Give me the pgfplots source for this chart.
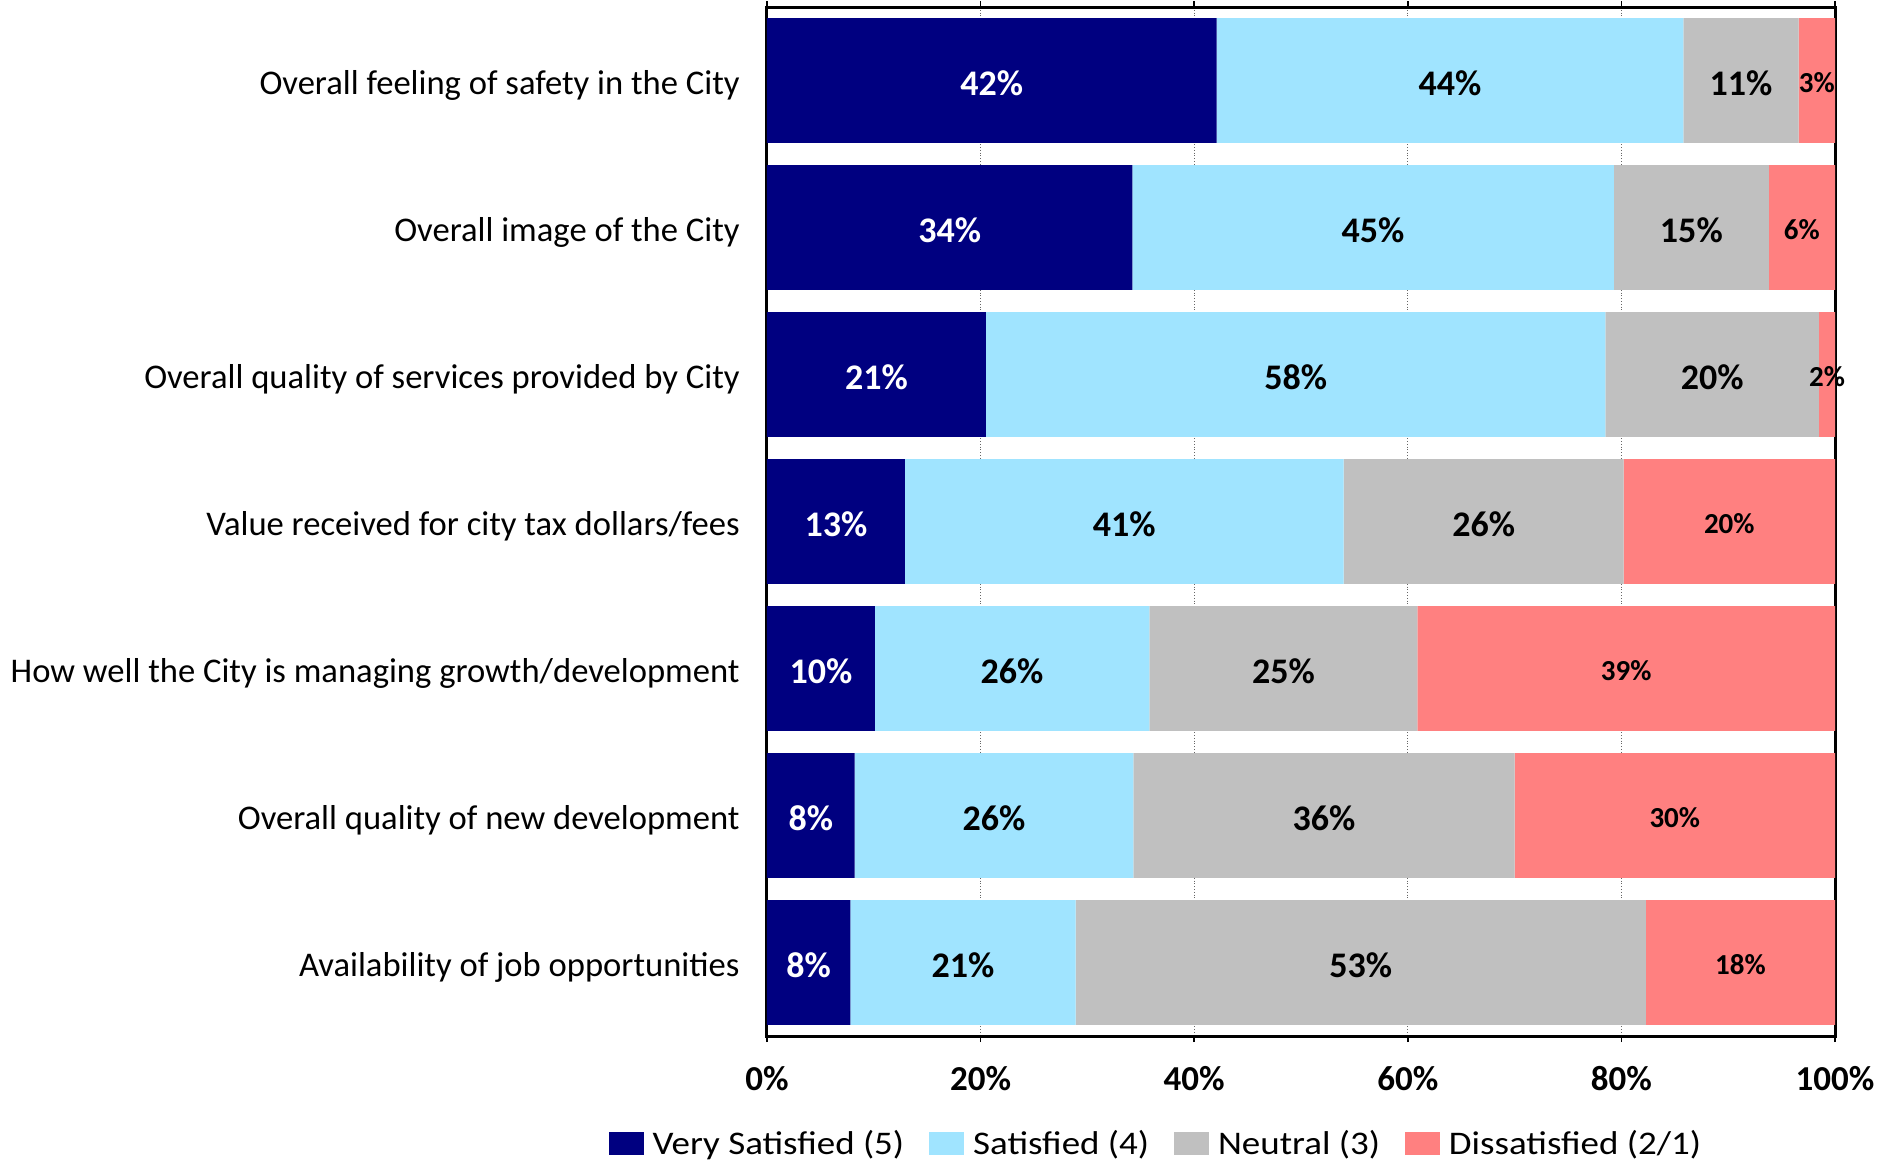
\documentclass[border=0pt]{standalone}
\usepackage{pgfplots}
\pgfplotsset{compat=1.18}
\usepackage{pgfplotstable}
\usepackage{fontspec}
\setmainfont{Carlito}
\newfontfamily\legfont{Carlito}[FakeStretch=1.12]
\definecolor{vs}{HTML}{000080}
\definecolor{sat}{HTML}{A0E4FF}
\definecolor{neu}{HTML}{C0C0C0}
\definecolor{dis}{HTML}{FF8080}
\pgfplotstableread{
idx vs ls s lsat n ln d ld
0 42.1 42 43.7 44 10.8 11 3.4 3
1 34.2 34 45.1 45 14.5 15 6.2 6
2 20.5 21 58.0 58 20.0 20 1.5 2
3 12.9 13 41.1 41 26.2 26 19.8 20
4 10.1 10 25.7 26 25.1 25 39.1 39
5 8.2 8 26.1 26 35.7 36 30.0 30
6 7.8 8 21.1 21 53.4 53 17.7 18
}\data
\begin{document}
\begin{tikzpicture}
\useasboundingbox (0,0) rectangle (947.5pt,580pt);
\begin{axis}[
  at={(383.5pt,62pt)}, anchor=south west,
  scale only axis, width=534pt, height=514.5pt,
  xbar stacked, bar width=0.85,
  xmin=0, xmax=100, ymin=-0.5, ymax=6.5, y dir=reverse,
  xtick={0,20,...,100},
  xticklabel={\pgfmathprintnumber{\tick}\%},
  /pgf/number format/assume math mode=true,
  xticklabel style={font=\fontsize{17.5}{20}\selectfont\bfseries, inner sep=0pt, yshift=-11.8pt},
  ytick={0,...,6},
  yticklabels={Overall feeling of safety in the City, Overall image of the City, Overall quality of services provided by City, Value received for city tax dollars/fees, How well the City is managing growth/development, Overall quality of new development, Availability of job opportunities},
  yticklabel style={font=\fontsize{17.3}{20}\selectfont, inner sep=0pt, xshift=-10.5pt, yshift=-2.5pt},
  ytick style={draw=none},
  xtick style={black, line width=0.8pt},
  tick align=outside, major tick length=3pt,
  axis line style={line width=1.5pt},
  xmajorgrids, major grid style={gray!80!black, densely dotted, line width=0.6pt},
  legend columns=4,
  legend style={at={(0.365,-0.1045)}, anchor=center, draw=none, font=\legfont\fontsize{16.5}{20}\selectfont, inner sep=0pt,
    /tikz/every odd column/.style={column sep=2.5pt},
    /tikz/every even column/.style={column sep=10.5pt}},
  legend image code/.code={\fill[#1] (0pt,-5.75pt) rectangle (17.5pt,5.75pt);},
  point meta=explicit,
  nodes near coords={\pgfmathprintnumber[fixed,precision=0]{\pgfplotspointmeta}\%},
  nodes near coords align=center,
  every node near coord/.append style={yshift=-1.2pt},
]
\addplot[fill=vs, draw=none,
  every node near coord/.append style={text=white, font=\fontsize{18}{20}\selectfont\bfseries}]
  table[x=vs, y=idx, meta=ls]{\data};
\addplot[fill=sat, draw=none,
  every node near coord/.append style={text=black, font=\fontsize{18}{20}\selectfont\bfseries}]
  table[x=s, y=idx, meta=lsat]{\data};
\addplot[fill=neu, draw=none,
  every node near coord/.append style={text=black, font=\fontsize{18}{20}\selectfont\bfseries}]
  table[x=n, y=idx, meta=ln]{\data};
\addplot[fill=dis, draw=none,
  every node near coord/.append style={text=black, font=\fontsize{14.5}{16}\selectfont\bfseries}]
  table[x=d, y=idx, meta=ld]{\data};
\legend{Very Satisfied (5), Satisfied (4), Neutral (3), Dissatisfied (2/1)}
\end{axis}
\end{tikzpicture}
\end{document}
